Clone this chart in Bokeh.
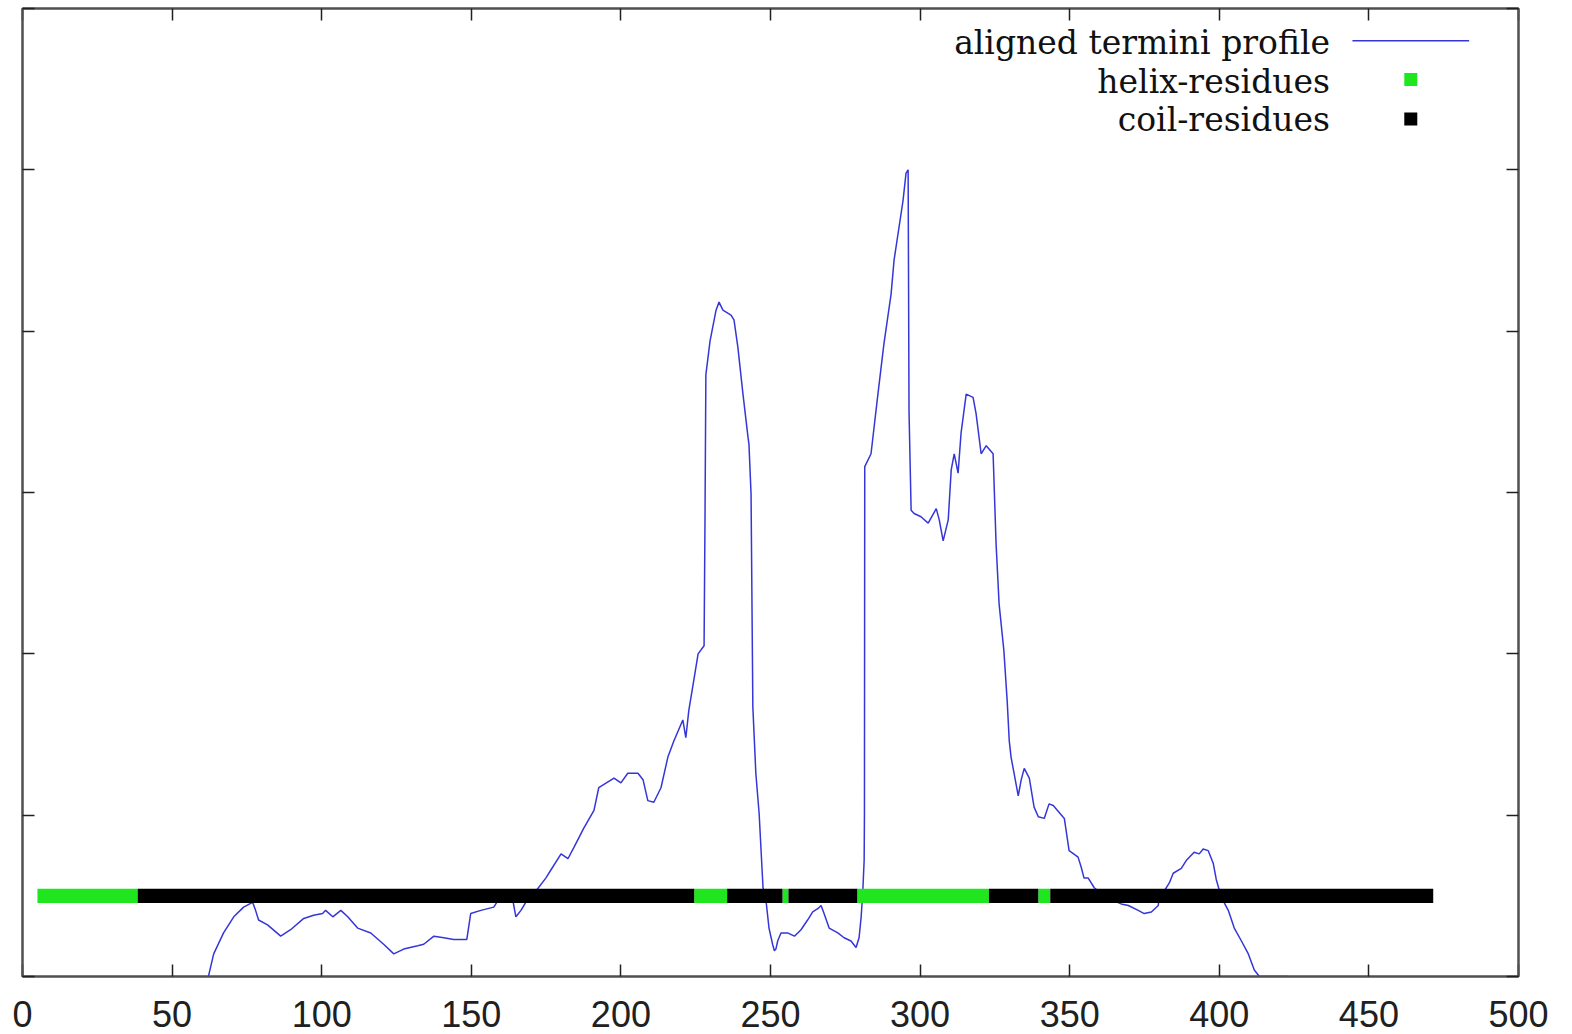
from bokeh.plotting import figure
from bokeh.models import LinearAxis, FixedTicker, Label, Range1d
from bokeh.embed import file_html
from bokeh.resources import INLINE

# ---- data ----
profile_x = [61.5, 63.9, 67.2, 70.6, 73.9, 76.9, 77.9, 78.9, 81.9, 86.3, 89.6, 94.0, 97.3, 100.3, 101.3,
             103.7, 106.4, 108.7, 112.0, 116.4, 120.7, 124.1, 127.4, 132.1, 134.1, 137.5, 140.8, 144.1,
             148.5, 149.8, 153.2, 157.5, 158.9, 160.5, 162.5, 163.2, 163.9, 164.9, 166.6, 168.2, 171.6,
             174.9, 176.6, 180.0, 182.3, 184.3, 187.6, 191.0, 192.6, 197.7, 200.0, 202.3, 205.7, 207.4,
             209.0, 211.0, 213.4, 215.7, 217.7, 220.7, 221.7, 222.7, 224.4, 225.8, 227.8, 228.1, 228.4,
             229.8, 231.8, 232.8, 234.1, 236.8, 237.8, 239.1, 240.8, 242.5, 242.8, 243.5, 244.1, 245.1,
             246.2, 247.5, 248.5, 249.5, 250.7, 251.3, 251.8, 252.4, 253.5, 255.7, 258.0, 260.2, 262.4,
             264.1, 265.8, 266.9, 267.9, 269.6, 272.5, 274.6, 276.9, 278.6, 279.6, 280.3, 280.8, 281.3,
             281.4, 281.5, 283.6, 285.9, 287.9, 290.3, 291.3, 294.3, 295.3, 296.0, 296.3, 297.0, 298.0,
             300.3, 302.7, 305.4, 306.4, 307.7, 309.4, 310.4, 311.4, 312.7, 313.7, 315.4, 317.7, 318.7,
             320.4, 322.1, 324.4, 325.4, 326.4, 328.0, 329.1, 329.8, 330.4, 331.4, 332.8, 333.8, 334.8,
             336.5, 338.1, 339.5, 341.5, 343.1, 344.5, 348.2, 349.8, 352.8, 353.8, 354.8, 356.2, 358.2,
             362.2, 367.2, 369.6, 372.9, 374.9, 377.3, 379.6, 379.9, 381.6, 383.3, 384.6, 387.3, 389.0,
             391.6, 393.3, 394.6, 396.3, 398.0, 399.0, 400.7, 403.0, 405.0, 407.4, 409.7, 411.7, 413.4,
             423.1]
profile_y = [-0.05, 0.14, 0.27, 0.37, 0.43, 0.46, 0.41, 0.35, 0.32, 0.25, 0.29, 0.36, 0.38, 0.39, 0.41,
             0.37, 0.41, 0.37, 0.30, 0.27, 0.20, 0.14, 0.17, 0.19, 0.20, 0.25, 0.24, 0.23,
             0.23, 0.39, 0.41, 0.43, 0.47, 0.51, 0.51, 0.50, 0.47, 0.37, 0.41, 0.46, 0.53,
             0.61, 0.66, 0.76, 0.73, 0.80, 0.92, 1.03, 1.17, 1.23, 1.20, 1.26, 1.26, 1.22,
             1.09, 1.08, 1.17, 1.36, 1.46, 1.59, 1.48, 1.65, 1.84, 2.00, 2.05, 2.81, 3.73,
             3.94, 4.13, 4.18, 4.13, 4.10, 4.07, 3.90, 3.61, 3.34, 3.30, 2.99, 1.67, 1.26,
             1.01, 0.55, 0.47, 0.30, 0.20, 0.16, 0.17, 0.22, 0.27, 0.27, 0.25, 0.29, 0.35,
             0.40, 0.42, 0.44, 0.39, 0.30, 0.27, 0.24, 0.22, 0.18, 0.24, 0.37, 0.51, 0.72,
             1.01, 3.16, 3.24, 3.61, 3.92, 4.23, 4.44, 4.81, 4.98, 5.00, 3.50, 2.89, 2.87,
             2.85, 2.81, 2.90, 2.83, 2.70, 2.83, 3.14, 3.24, 3.12, 3.37, 3.61, 3.59, 3.49,
             3.24, 3.29, 3.24, 2.68, 2.31, 2.02, 1.71, 1.46, 1.36, 1.26, 1.12, 1.22, 1.29,
             1.23, 1.05, 0.99, 0.98, 1.07, 1.06, 0.98, 0.78, 0.74, 0.68, 0.61, 0.61, 0.55,
             0.49, 0.45, 0.44, 0.41, 0.39, 0.40, 0.44, 0.49, 0.53, 0.58, 0.64, 0.67, 0.72,
             0.77, 0.76, 0.79, 0.78, 0.70, 0.60, 0.49, 0.41, 0.30, 0.22, 0.14, 0.04, 0.00,
             0.00]

seg_start = [5.0, 38.5, 224.5, 235.5, 254.0, 256.0, 279.0, 323.0, 339.5, 343.5]
seg_end = [38.5, 224.5, 235.5, 254.0, 256.0, 279.0, 323.0, 339.5, 343.5, 471.5]
seg_type = ["helix", "coil", "helix", "coil", "helix", "coil", "helix", "coil", "helix", "coil"]
residue_level = 0.5

x_ticks = [0, 50, 100, 150, 200, 250, 300, 350, 400, 450, 500]
y_ticks = [0, 1, 2, 3, 4, 5, 6]
legend_labels = ["aligned termini profile", "helix-residues", "coil-residues"]

# ---- styles ----
LINE_COLOR = "#3636d8"
HELIX_COLOR = "#1fe61f"
COIL_COLOR = "#000000"
FRAME_COLOR = "#505050"
SERIF = "DejaVu Serif"
TICK_FONT = "Liberation Sans"

p = figure(width=1572, height=1034, x_range=Range1d(0, 500), y_range=Range1d(0, 6),
           output_backend="svg", toolbar_location=None,
           min_border_left=22, min_border_right=54, min_border_top=8, min_border_bottom=58)
p.grid.visible = False
p.outline_line_color = FRAME_COLOR
p.outline_line_width = 2
p.background_fill_color = "white"
p.border_fill_color = "white"

# profile line (below the residue bar)
p.line(profile_x, profile_y, line_color=LINE_COLOR, line_width=1.5)

# residue bar
bar_half = 0.044
for kind, color in (("helix", HELIX_COLOR), ("coil", COIL_COLOR)):
    l = [s for s, t in zip(seg_start, seg_type) if t == kind]
    r = [e for e, t in zip(seg_end, seg_type) if t == kind]
    p.quad(left=l, right=r, bottom=[residue_level - bar_half] * len(l),
           top=[residue_level + bar_half] * len(l), fill_color=color, line_color=None)

def style_axis(ax, ticks, labels):
    ax.ticker = FixedTicker(ticks=ticks)
    ax.major_tick_in = 12
    ax.major_tick_out = 0
    ax.minor_tick_line_color = None
    ax.major_tick_line_color = "#202020"
    ax.major_tick_line_width = 1.5
    ax.axis_line_color = FRAME_COLOR
    ax.axis_line_width = 2
    if not labels:
        ax.major_label_overrides = {t: "" for t in ticks}
        ax.major_label_standoff = 0

xa = p.xaxis[0]
ya = p.yaxis[0]
style_axis(xa, x_ticks, True)
style_axis(ya, y_ticks, False)
xa.major_label_text_font = TICK_FONT
xa.major_label_text_font_size = "36px"
xa.major_label_text_color = "#202020"
xa.major_label_standoff = 24

top_ax = LinearAxis()
right_ax = LinearAxis()
p.add_layout(top_ax, "above")
p.add_layout(right_ax, "right")
style_axis(top_ax, x_ticks, False)
style_axis(right_ax, y_ticks, False)

# legend (gnuplot style: right-aligned text, sample on the right)
leg_text_x = 437.0
leg_baselines = [5.79, 5.55, 5.31]
leg_marks = [5.80, 5.56, 5.315]
for lab, yy in zip(legend_labels, leg_baselines):
    p.add_layout(Label(x=leg_text_x, y=yy, text=lab, text_align="right", text_baseline="alphabetic",
                       text_font=SERIF, text_font_size="33px", text_color="#111111"))
p.line([444.5, 483.5], [leg_marks[0], leg_marks[0]], line_color=LINE_COLOR, line_width=1.5)
p.scatter([464.0], [leg_marks[1]], marker="square", size=13, fill_color=HELIX_COLOR, line_color=None)
p.scatter([464.0], [leg_marks[2]], marker="square", size=13, fill_color=COIL_COLOR, line_color=None)

open("out.html", "w").write(file_html(p, INLINE))
